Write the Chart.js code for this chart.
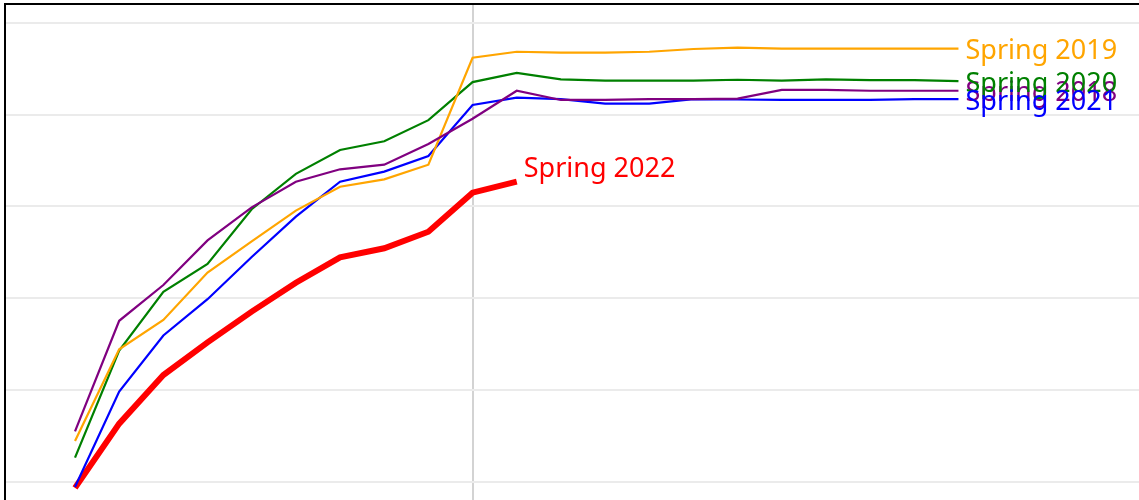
<!DOCTYPE html>
<html>
<head>
<meta charset="utf-8">
<script src="https://cdn.jsdelivr.net/npm/chart.js@4/dist/chart.umd.min.js"></script>
<style>
  html, body { margin: 0; padding: 0; overflow: hidden; background: #fff; }
  #wrap { position: absolute; left: 0; top: 0; width: 1250px; height: 560px; }
</style>
</head>
<body>
<div id="wrap"><canvas id="spring"></canvas></div>
<script>
// week index along the season
const weeks = [0, 1, 2, 3, 4, 5, 6, 7, 8, 9, 10, 11, 12, 13, 14, 15, 16, 17, 18, 19, 20];
const seriesNames = ['Spring 2018', 'Spring 2019', 'Spring 2020', 'Spring 2021', 'Spring 2022'];
const seriesColors = ['#800080', '#FFA500', '#008000', '#0000FF', '#FF0000'];

const spring2018 = [11.0, 35.1, 42.9, 52.6, 59.8, 65.4, 68.1, 69.1, 73.6, 79.1, 85.2, 83.2, 83.2, 83.4, 83.4, 83.5, 85.4, 85.4, 85.2, 85.2, 85.2];
const spring2019 = [8.9, 28.9, 35.3, 45.6, 52.4, 59.1, 64.3, 65.9, 69.1, 92.4, 93.7, 93.5, 93.5, 93.7, 94.3, 94.6, 94.4, 94.4, 94.4, 94.4, 94.4];
const spring2020 = [5.3, 28.6, 41.4, 47.5, 59.4, 67.1, 72.3, 74.2, 78.8, 87.1, 89.1, 87.7, 87.4, 87.4, 87.4, 87.6, 87.4, 87.7, 87.5, 87.5, 87.3];
const spring2021 = [-1.1, 19.7, 31.9, 39.8, 49.0, 57.8, 65.4, 67.6, 71.0, 82.1, 83.7, 83.4, 82.4, 82.4, 83.4, 83.3, 83.2, 83.2, 83.2, 83.4, 83.4];
const spring2022 = [-1.3, 12.7, 23.3, 30.4, 37.1, 43.4, 48.9, 50.9, 54.5, 63.0, 65.4];

const yTicks = [0, 20, 40, 60, 80, 100];
const markerWeek = 9;

const allSeries = [spring2018, spring2019, spring2020, spring2021, spring2022];

function toPoints(vals) {
    return vals.map((v, i) => ({ x: weeks[i], y: v }));
}

const datasets = allSeries.map((vals, i) => ({
    label: seriesNames[i],
    data: toPoints(vals),
    borderColor: seriesColors[i],
    backgroundColor: seriesColors[i],
    borderWidth: i === 4 ? 6 : 2.2,
    pointRadius: 0,
    tension: 0,
    fill: false
}));

// frame round the plot area
const framePlugin = {
    id: 'frame',
    afterDraw(chart) {
        const { ctx, chartArea } = chart;
        ctx.save();
        ctx.strokeStyle = '#000';
        ctx.lineWidth = 2;
        ctx.strokeRect(chartArea.left, chartArea.top, chartArea.right - chartArea.left, chartArea.bottom - chartArea.top);
        ctx.restore();
    }
};

// series name at the end of each line
const endLabels = {
    id: 'endLabels',
    afterDatasetsDraw(chart) {
        const ctx = chart.ctx;
        ctx.save();
        ctx.font = '27px "Noto Sans", sans-serif';
        ctx.textAlign = 'left';
        ctx.textBaseline = 'alphabetic';
        chart.data.datasets.forEach((ds, i) => {
            const meta = chart.getDatasetMeta(i);
            const last = meta.data[meta.data.length - 1];
            ctx.fillStyle = ds.borderColor;
            const dy = i === 4 ? -5 : 10.5;
            ctx.fillText(ds.label, last.x + 7, last.y + dy);
        });
        ctx.restore();
    }
};

const ctx = document.getElementById('spring').getContext('2d');
const springChart = new Chart(ctx, {
    type: 'line',
    data: { datasets: datasets },
    options: {
        responsive: true,
        maintainAspectRatio: false,
        animation: false,
        layout: { padding: { left: 5, top: 4, right: 0, bottom: 0 } },
        plugins: {
            legend: { display: false },
            tooltip: { enabled: false }
        },
        scales: {
            x: {
                type: 'linear',
                min: -1.585,
                max: 26.6,
                afterBuildTicks: axis => { axis.ticks = [{ value: markerWeek }]; },
                ticks: { display: false },
                grid: { color: '#d3d3d3', lineWidth: 2, drawTicks: false },
                border: { display: false }
            },
            y: {
                min: -17,
                max: 104.1,
                afterBuildTicks: axis => { axis.ticks = yTicks.map(v => ({ value: v })); },
                ticks: { display: false },
                grid: { color: '#ebebeb', lineWidth: 2, drawTicks: false },
                border: { display: false }
            }
        }
    },
    plugins: [framePlugin, endLabels]
});
</script>
</body>
</html>
